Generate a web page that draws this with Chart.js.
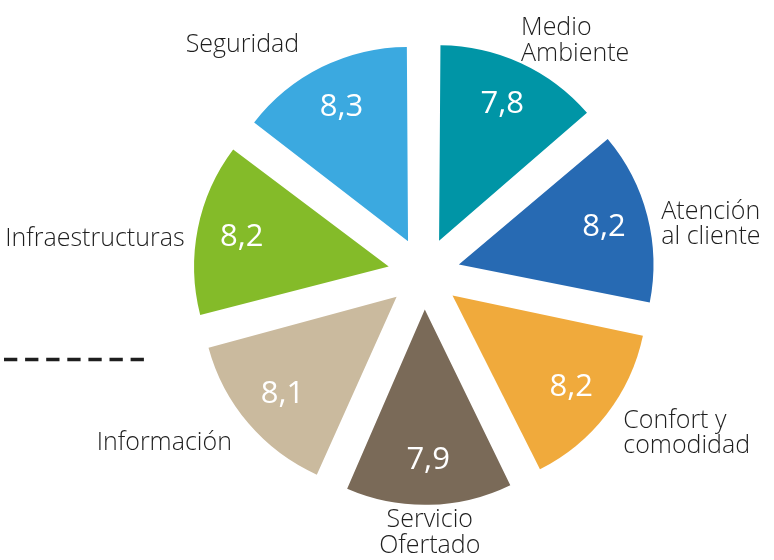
<!DOCTYPE html>
<html>
<head>
<meta charset="utf-8">
<script src="https://cdn.jsdelivr.net/npm/chart.js@4.4.0/dist/chart.umd.min.js"></script>
<style>
  html, body { margin:0; padding:0; background:#fff; }
  #wrap { width:774px; height:560px; position:relative; }
</style>
</head>
<body>
<div id="wrap"><canvas id="chart"></canvas></div>
<script>
// data
const categories = [
  ["Medio", "Ambiente"],
  ["Atención", "al cliente"],
  ["Confort y", "comodidad"],
  ["Servicio", "Ofertado"],
  ["Información"],
  ["Infraestructuras"],
  ["Seguridad"]
];
const values = [7.8, 8.2, 8.2, 7.9, 8.1, 8.2, 8.3];
const colors = ["#0095a6", "#276ab3", "#f0aa3c", "#7a6a58", "#caba9e", "#84bb29", "#3ba9e0"];

const fmt = (v)=>v.toFixed(1).replace(".", ",");
const FONT = "'Open Sans', Lato, sans-serif";
const TEXT = "#1e1e1e";

// value inside each slice + category name outside it
const sliceLabels = {
  id: "sliceLabels",
  afterDatasetsDraw(chart){
    const ctx = chart.ctx;
    const arcs = chart.getDatasetMeta(0).data;
    ctx.save();
    arcs.forEach((arc, i)=>{
      const p = arc.getProps(["x","y","startAngle","endAngle","outerRadius"], true);
      const mid = (p.startAngle + p.endAngle) / 2;
      const shift = (arc.options.offset || 0) / 4;
      const cx = p.x + Math.cos(mid) * shift;
      const cy = p.y + Math.sin(mid) * shift;
      const span = p.endAngle - p.startAngle;
      const R = p.outerRadius + shift * (1 - Math.sin(Math.min(Math.PI, span)));
      const ux = Math.cos(mid), uy = Math.sin(mid);

      ctx.fillStyle = "#fff";
      ctx.font = "31px " + FONT;
      ctx.textAlign = "center";
      ctx.textBaseline = "middle";
      ctx.fillText(fmt(values[i]), cx + ux * R * 0.77, cy + uy * R * 0.77);

      const lines = categories[i];
      const gap = 10 + 18 * Math.abs(uy);
      let ax = cx + ux * (R + gap);
      let ay = cy + uy * (R + gap) + 16 * (1 - Math.abs(uy));
      if (uy < -0.7) ax -= 11;   // names above the pie sit a little to the left
      ctx.fillStyle = TEXT;
      ctx.font = "300 25px " + FONT;
      ctx.textAlign = ux > 0.2 ? "left" : (ux < -0.2 ? "right" : "center");
      const lh = 25.5;
      lines.forEach((t, k)=>{
        ctx.fillText(t, ax, ay + (k - (lines.length - 1) / 2) * lh);
      });
    });

    // dashed rule on the left
    ctx.strokeStyle = TEXT;
    ctx.lineWidth = 3.5;
    ctx.setLineDash([13.3, 7.8]);
    ctx.beginPath();
    ctx.moveTo(4, 359.5);
    ctx.lineTo(144, 359.5);
    ctx.stroke();
    ctx.restore();
  }
};

new Chart(document.getElementById("chart"), {
  type: "pie",
  data: {
    labels: categories.map(c=>c.join(" ")),
    datasets: [{
      data: values,
      backgroundColor: colors,
      borderWidth: 0,
      offset: 144
    }]
  },
  options: {
    responsive: true,
    maintainAspectRatio: false,
    animation: false,
    radius: 187,
    layout: { padding: { left: 74, right: 0, top: 0, bottom: 13 } },
    plugins: {
      legend: { display: false },
      tooltip: { enabled: false }
    }
  },
  plugins: [sliceLabels]
});
</script>
</body>
</html>
